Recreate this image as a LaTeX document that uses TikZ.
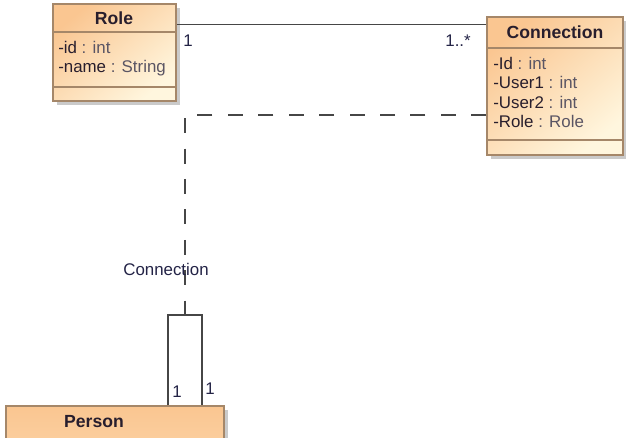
\documentclass[tikz,border=0pt]{standalone}
\usepackage{fontspec}
\setmainfont{Liberation Sans}
\usetikzlibrary{fit,shadows}

\definecolor{umlOrange}{RGB}{250,198,145}
\definecolor{umlPale}{RGB}{255,246,222}
\definecolor{umlBorder}{RGB}{165,135,105}
\definecolor{umlText}{RGB}{40,30,45}
\definecolor{umlType}{RGB}{90,85,100}
\definecolor{umlLine}{RGB}{70,70,70}
\definecolor{umlMult}{RGB}{35,35,70}

\newcommand{\umltype}[1]{\textcolor{umlType}{#1}}

\begin{document}
\begin{tikzpicture}[x=0.025cm, y=-0.025cm]
% styles
\tikzset{
  classbox/.style={draw=umlBorder, line width=0.9pt, inner sep=0pt, top color=umlOrange, bottom color=umlPale, shading angle=40,
    drop shadow={shadow xshift=2.5pt, shadow yshift=-2.5pt, fill=black!35, opacity=0.6}},
  divider/.style={draw=umlBorder, line width=0.9pt},
  title/.style={font=\fontsize{12.5}{14}\selectfont\bfseries, text=umlText, inner sep=0pt},
  attr/.style={anchor=west, align=left, font=\fontsize{12}{13.7}\selectfont, text=umlText, inner sep=0pt},
  mult/.style={font=\fontsize{12}{14}\selectfont, text=umlMult, inner sep=0pt},
  assoc/.style={draw=umlLine, line width=0.8pt},
  dashline/.style={draw=umlLine, line width=0.8pt, dash pattern=on 10.67pt off 10.98pt}
}
\useasboundingbox (0,0) rectangle (626,438);

% Role
\node[classbox, fit={(53,4) (176,101)}] (role) {};
\node[title] (roleTitle) at (114,18) {Role};
\draw[divider] (role.west |- 0,32) -- (role.east |- 0,32);
\draw[divider] (role.west |- 0,87) -- (role.east |- 0,87);
\node[attr] (roleAttr) at (58,58.5) {-id \umltype{: int}\\-name \umltype{: String}};

% Connection
\node[classbox, fit={(487,17) (623,155)}] (conn) {};
\node[title] (connTitle) at (555,32) {Connection};
\draw[divider] (conn.west |- 0,48) -- (conn.east |- 0,48);
\draw[divider] (conn.west |- 0,140) -- (conn.east |- 0,140);
\node[attr] (connAttr) at (493,92.5) {-Id \umltype{: int}\\-User1 \umltype{: int}\\-User2 \umltype{: int}\\-Role \umltype{: Role}};

% Person
\node[classbox, top color=umlOrange, bottom color=umlOrange!75!umlPale, fit={(6,406) (224,460)}] (person) {};
\node[title] (personTitle) at (94,422) {Person};

% Role -- Connection
\path (role.north east) ++(0,21) coordinate (roleEnd);
\draw[assoc] (roleEnd) -- (roleEnd -| conn.west);
\node[mult, anchor=north west] (roleMult) at (183,35) {1};
\node[mult, anchor=north east] (connMult) at (471,35) {1..*};

% Person -- Person
\coordinate (loopTL) at (168,315);
\coordinate (loopTR) at (202,315);
\coordinate (loopMid) at (185,315);
\draw[assoc] (loopTL |- person.north) -- (loopTL) -- (loopTR) -- (loopTR |- person.north);
\node[mult] (leftMult) at (177,392) {1};
\node[mult] (rightMult) at (210,389) {1};

% association class link
\draw[dashline] (conn.west |- 0,115) -- (loopMid |- 0,115) -- (loopMid);
\node[mult] (assocName) at (166,269) {Connection};
\end{tikzpicture}
\end{document}
